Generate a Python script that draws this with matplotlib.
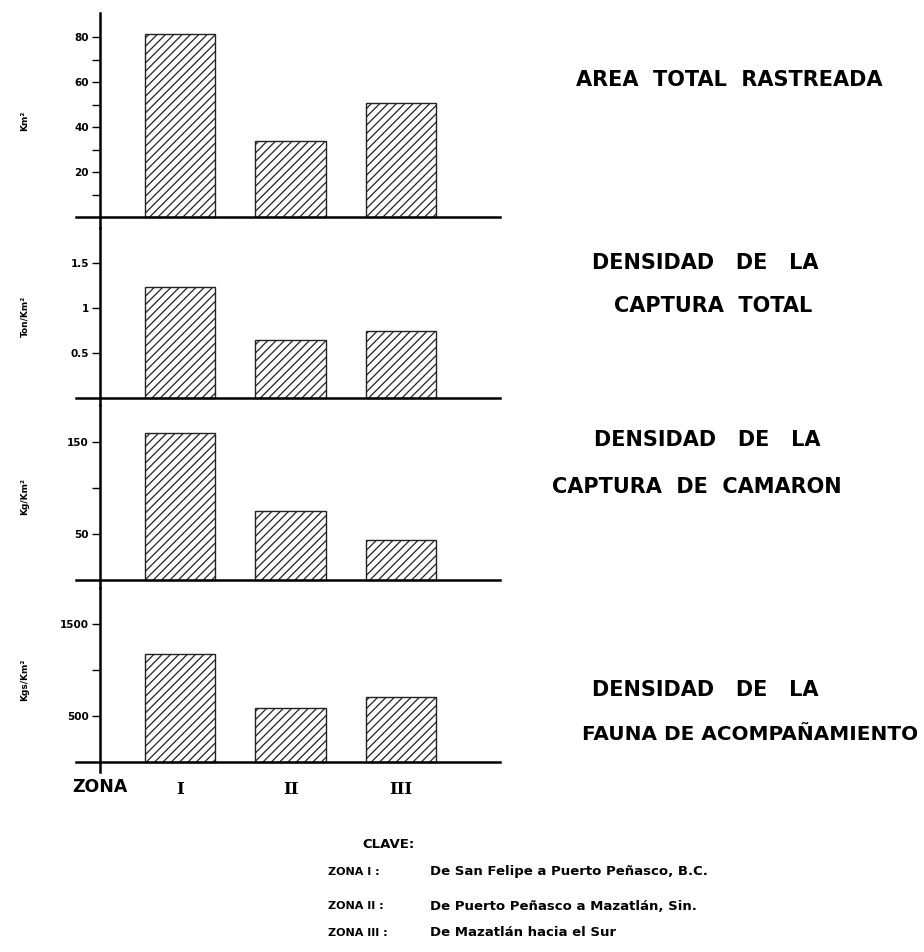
import matplotlib
matplotlib.use("Agg")
import matplotlib.pyplot as plt
from matplotlib.ticker import FixedLocator

plt.rcParams['hatch.linewidth'] = 0.9

zonas = ["I", "II", "III"]

area_total = [81.5, 34, 50.5]
captura_total = [1.23, 0.64, 0.74]
captura_camaron = [160, 75, 43]
fauna = [1170, 590, 705]

unidades = ["Km²", "Ton/Km²", "Kg/Km²", "Kgs/Km²"]
titulos = [["AREA  TOTAL  RASTREADA"],
           ["DENSIDAD   DE   LA", "CAPTURA  TOTAL"],
           ["DENSIDAD   DE   LA", "CAPTURA  DE  CAMARON"],
           ["DENSIDAD   DE   LA", "FAUNA DE ACOMPAÑAMIENTO"]]

ticks_mayores = [[20, 40, 60, 80], [0.5, 1, 1.5], [50, 150], [500, 1500]]
etiquetas = [["20", "40", "60", "80"], ["0.5", "1", "1.5"], ["50", "150"], ["500", "1500"]]
ticks_menores = [[10, 30, 50, 70], [], [100], [1000]]

clave_zonas = ["ZONA I :", "ZONA II :", "ZONA III :"]
clave_textos = ["De San Felipe a Puerto Peñasco, B.C.",
                "De Puerto Peñasco a Mazatlán, Sin.",
                "De Mazatlán hacia el Sur"]

W, H = 924, 952
fig = plt.figure(figsize=(W / 100, H / 100), dpi=100)

# panel layout in pixels: (top, bottom, baseline, px per unit)
paneles = [(13, 228, 217, 2.25),
           (228, 405, 398, 90.0),
           (405, 588, 580, 0.92),
           (588, 772, 762, 0.092)]
series = [area_total, captura_total, captura_camaron, fauna]
# title lines: (x center, y center, font size) in pixels / points
titulo_pos = [[(729, 80, 15)],
              [(705, 263, 15), (713, 306, 15)],
              [(707, 440, 15), (697, 487, 15)],
              [(705, 690, 15), (750, 735, 14.4)]]

x_left, x_right = 76, 500
unit_px = 110.5
x_first = 180
xlim = (-(x_first - x_left) / unit_px, (x_right - x_first) / unit_px)
eje_y = -(x_first - 100) / unit_px

for i, (top, bottom, base, ppu) in enumerate(paneles):
    ax = fig.add_axes([x_left / W, 1 - bottom / H, (x_right - x_left) / W, (bottom - top) / H])
    ax.set_xlim(*xlim)
    ax.set_ylim(-(bottom - base) / ppu, (base - top) / ppu)
    ax.bar(range(len(zonas)), series[i], width=0.64, facecolor="white",
           edgecolor="#222222", linewidth=1.0, hatch="////")
    for s in ["top", "right"]:
        ax.spines[s].set_visible(False)
    ax.spines["left"].set_position(("data", eje_y))
    ax.spines["bottom"].set_position(("data", 0))
    ax.spines["left"].set_linewidth(1.8)
    ax.spines["bottom"].set_linewidth(1.8)
    ax.set_xticks([])
    ax.yaxis.set_major_locator(FixedLocator(ticks_mayores[i]))
    ax.yaxis.set_minor_locator(FixedLocator(ticks_menores[i]))
    ax.set_yticklabels(etiquetas[i], fontsize=7.5, fontweight="bold")
    ax.tick_params(axis="y", which="major", length=6, width=1, pad=2)
    ax.tick_params(axis="y", which="minor", length=6, width=1)
    ax.patch.set_alpha(0)
    cy = 1 - (top + bottom) / 2 / H
    fig.text(25 / W, cy, unidades[i], rotation=90, ha="center", va="center",
             fontsize=6.5, fontweight="bold")
    for linea, (tx, ty, fs) in zip(titulos[i], titulo_pos[i]):
        fig.text(tx / W, 1 - ty / H, linea, ha="center", va="center",
                 fontsize=fs, fontweight="bold")

# zone labels under last panel
ax_last = fig.axes[-1]
fig.text(100 / W, 1 - 787 / H, "ZONA", ha="center", va="center",
         fontsize=12.5, fontweight="bold")
for k, z in enumerate(zonas):
    ax_last.annotate(z, xy=(k, 0), xycoords="data", xytext=(0, -20),
                     textcoords="offset points", ha="center", va="center",
                     fontsize=12, fontweight="bold", family="DejaVu Serif",
                     annotation_clip=False)

fig.text(362 / W, 1 - 844 / H, "CLAVE:", ha="left", va="center",
         fontsize=9.5, fontweight="bold")
clave_y = [872, 906, 933]
for k in range(len(clave_zonas)):
    y = 1 - clave_y[k] / H
    fig.text(328 / W, y, clave_zonas[k], ha="left", va="center",
             fontsize=8, fontweight="bold")
    fig.text(430 / W, y, clave_textos[k], ha="left", va="center",
             fontsize=9.5, fontweight="bold")

fig.savefig("out.png", dpi=100, facecolor="white")
